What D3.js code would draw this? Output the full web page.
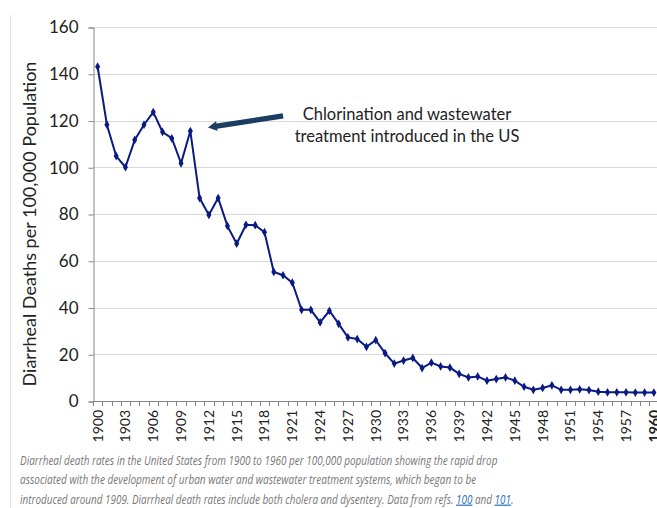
<!DOCTYPE html>
<html><head><meta charset="utf-8">
<script src="https://cdn.jsdelivr.net/npm/d3@7"></script>
<style>body{margin:0;background:#fff} svg{display:block}</style>
</head><body>
<svg id="c" width="657" height="508"></svg>
<script>
const years = [1900,1901,1902,1903,1904,1905,1906,1907,1908,1909,
  1910,1911,1912,1913,1914,1915,1916,1917,1918,1919,
  1920,1921,1922,1923,1924,1925,1926,1927,1928,1929,
  1930,1931,1932,1933,1934,1935,1936,1937,1938,1939,
  1940,1941,1942,1943,1944,1945,1946,1947,1948,1949,
  1950,1951,1952,1953,1954,1955,1956,1957,1958,1959,1960];
const deathRates = [143,118.2,104.8,100,111.7,118.2,123.6,115.1,112.4,101.7,
  115.5,86.8,79.6,86.8,74.9,67.3,75.4,75.2,72.2,55.2,
  53.8,50.6,39,39,33.6,38.6,33,27.2,26.5,23.2,
  26,20.5,16,17.3,18.4,14.1,16.4,14.8,14.3,11.6,
  10.1,10.5,8.7,9.4,10.1,8.7,6.1,4.8,5.6,6.7,
  4.8,4.8,5,4.7,4.0,3.7,3.7,3.7,3.6,3.6,3.6];
const xTickLabels = [1900,1903,1906,1909,1912,1915,1918,1921,1924,1927,1930,1933,1936,1939,1942,1945,1948,1951,1954,1957,1960];
const yTicks = [0,20,40,60,80,100,120,140,160];
const yTitle = "Diarrheal Deaths per 100,000 Population";
const annotationLines = ["Chlorination and wastewater","treatment introduced in the US"];
const arrowFrom = {year:1920, value:122};
const arrowTo = {year:1911.9, value:117};
const caption = [
  [{t:"Diarrheal death rates in the United States from 1900 to 1960 per 100,000 population showing the rapid drop"}],
  [{t:"associated with the development of urban water and wastewater treatment systems, which began to be"}],
  [{t:"introduced around 1909. Diarrheal death rates include both cholera and dysentery. Data from refs. "},{t:"100",link:true},{t:" and "},{t:"101",link:true},{t:"."}]
];

const svg = d3.select("#c");
const pLeft = 93, pRight = 658.5, pTop = 27, pBottom = 401;
const x = d3.scaleBand().domain(years).range([pLeft,pRight]);
const xc = v => x.range()[0] + (v - years[0]) * x.step() + x.step()/2;
const y = d3.scaleLinear().domain([0,160]).range([pBottom,pTop]);
const FONT = "Lato, 'Open Sans', sans-serif";

// page border line
svg.append("line").attr("x1",10.5).attr("x2",10.5).attr("y1",15).attr("y2",508)
  .attr("stroke","#e2e2e2").attr("stroke-width",1);

// gridlines
svg.append("g").selectAll("line").data(yTicks.filter(d=>d>0)).join("line")
  .attr("x1",pLeft).attr("x2",657).attr("y1",d=>Math.round(y(d))+0.5).attr("y2",d=>Math.round(y(d))+0.5)
  .attr("stroke","#d9d9d9").attr("stroke-width",1);

// y axis
const yAxis = d3.axisLeft(y).tickValues(yTicks).tickSize(5).tickPadding(10);
const gy = svg.append("g").attr("transform",`translate(${pLeft+0.5},0.5)`).call(yAxis);
gy.select(".domain").attr("stroke","#868686");
gy.selectAll(".tick line").attr("stroke","#868686");
gy.selectAll("text").attr("font-family",FONT).attr("font-size",17).attr("fill","#222");

// x axis
const xAxis = d3.axisBottom(x).tickSize(0).tickFormat(d=>xTickLabels.includes(d)?d:"");
const gx = svg.append("g").attr("transform",`translate(0,${pBottom+0.5})`).call(xAxis);
gx.select(".domain").attr("stroke","#868686").attr("d",`M${pLeft+0.5},0H${pRight}`);
gx.selectAll(".tick text")
  .attr("font-family",FONT).attr("font-size",14).attr("fill","#222")
  .attr("transform","rotate(-90)").attr("text-anchor","end").attr("dy","0.35em").attr("x",-8.5).attr("y",0)
  .attr("font-weight",d=>d===1960?"bold":"normal");
gx.selectAll(".tick").filter(d=>!xTickLabels.includes(d)).select("text").remove();
// category boundary ticks
svg.append("g").selectAll("line").data(years.concat([null])).join("line")
  .attr("x1",(d,i)=>Math.round(pLeft + i*x.step())+0.5).attr("x2",(d,i)=>Math.round(pLeft + i*x.step())+0.5)
  .attr("y1",pBottom).attr("y2",pBottom+5).attr("stroke","#868686");

// y title
svg.append("text").attr("transform",`translate(36,224) rotate(-90)`)
  .attr("text-anchor","middle").attr("font-family",FONT)
  .attr("font-size",18).attr("fill","#222").text(yTitle);

// line
const pts = years.map((yr,i)=>[xc(yr), y(deathRates[i])]);
svg.append("path").attr("d",d3.line()(pts)).attr("fill","none")
  .attr("stroke","#0a1a82").attr("stroke-width",2);
svg.append("g").selectAll("path").data(pts).join("path")
  .attr("transform",d=>`translate(${d[0]},${d[1]})`)
  .attr("d",d3.symbol(d3.symbolDiamond,22)).attr("fill","#0a1a82");

// annotation
const ann = svg.append("text").attr("font-family",FONT)
  .attr("font-size",16.5).attr("fill","#222").attr("text-anchor","middle");
annotationLines.forEach((l,i)=>ann.append("tspan").attr("x",407).attr("y",120+i*22).text(l));

// arrow
const ax1 = xc(arrowFrom.year), ay1 = y(arrowFrom.value), ax2 = xc(arrowTo.year), ay2 = y(arrowTo.value);
const dx = ax2-ax1, dy = ay2-ay1, L = Math.hypot(dx,dy), ux = dx/L, uy = dy/L, nx = -uy, ny = ux;
const hl = 9, hw = 5, sw = 2.6;
const bx = ax2 - ux*hl, by = ay2 - uy*hl;
const poly = [
  [ax1+nx*sw, ay1+ny*sw],[bx+nx*sw, by+ny*sw],[bx+nx*hw, by+ny*hw],[ax2,ay2],
  [bx-nx*hw, by-ny*hw],[bx-nx*sw, by-ny*sw],[ax1-nx*sw, ay1-ny*sw]];
svg.append("path").attr("d","M"+poly.map(p=>p.join(",")).join("L")+"Z").attr("fill","#1c3d62");

// caption
const capWidths=[478,457,494];
const capBase=[464.5,484,503.5];
caption.forEach((parts,i)=>{
  const g = svg.append("g");
  const t = g.append("text").attr("x",0).attr("y",0)
    .attr("font-family","'Open Sans', sans-serif").attr("font-style","italic")
    .attr("font-size",12).attr("fill","#777");
  parts.forEach(p=>{
    const ts = t.append("tspan").text(p.t);
    if(p.link) ts.attr("fill","#2a6ebb").attr("text-decoration","underline");
  });
  const w = t.node().getComputedTextLength();
  g.attr("transform",`translate(20,${capBase[i]}) scale(${capWidths[i]/w},1)`);
});
</script>
</body></html>
